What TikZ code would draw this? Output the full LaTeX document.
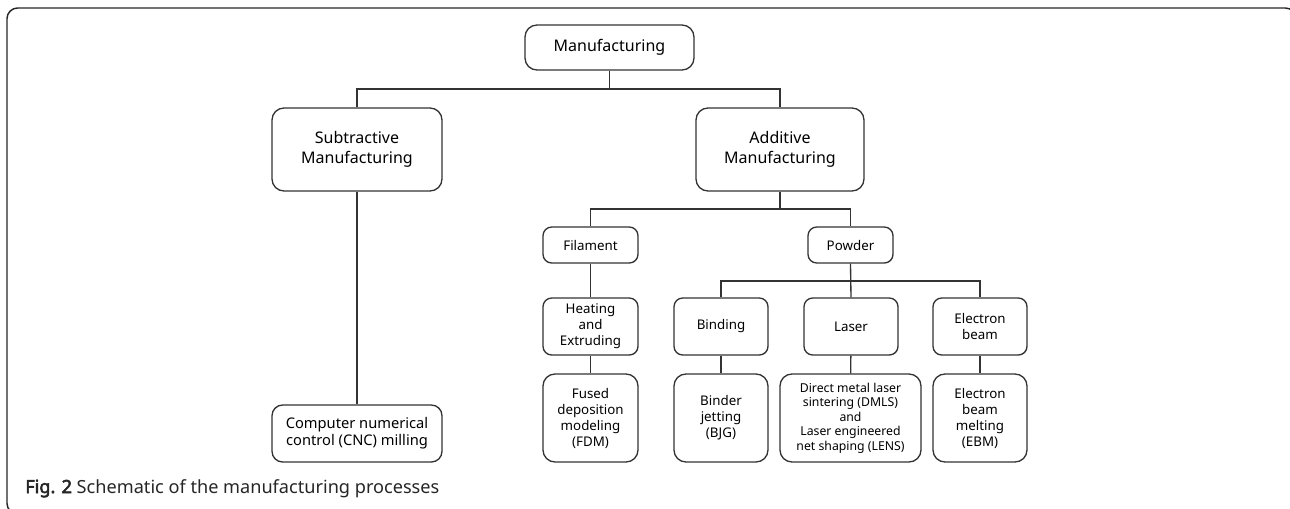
\documentclass[tikz,border=0pt]{standalone}
\usepackage{fontspec}
\setmainfont{Noto Sans}
\newfontfamily\figbold{Noto Sans}[FakeBold=3]
\begin{document}
\begin{tikzpicture}[x=0.75pt,y=-0.75pt,
  line/.style={draw=black!80,line width=1pt},
  bigbox/.style={line, rounded corners=9pt, align=center, inner sep=0pt, font=\fontsize{12}{15.5}\selectfont},
  midbox/.style={line, rounded corners=6.5pt, align=center, inner sep=0pt, font=\fontsize{10}{12}\selectfont},
  cncbox/.style={line, rounded corners=8pt, align=center, inner sep=0pt, font=\fontsize{11}{13}\selectfont},
  smallbox/.style={line, rounded corners=9pt, align=center, inner sep=0pt, font=\fontsize{9.2}{10.9}\selectfont},
  conn/.style={line}]
\useasboundingbox (0,0) rectangle (1290,508);
\begin{scope}
\clip (0,0) rectangle (1290,508);
\draw[draw=black!85,line width=1.1pt,rounded corners=8pt] (7,8) rectangle (1296,514);
\end{scope}
% nodes
\node[bigbox, minimum width=169*0.75pt, minimum height=45*0.75pt] (man) at (609.5,47.5) {Manufacturing};
\node[bigbox, minimum width=170*0.75pt, minimum height=83*0.75pt] (sub) at (357,149.5) {Subtractive\\Manufacturing};
\node[bigbox, minimum width=168*0.75pt, minimum height=83*0.75pt] (add) at (780,149.5) {Additive\\Manufacturing};
\node[midbox, minimum width=95*0.75pt, minimum height=36*0.75pt] (fil) at (590.5,245) {Filament};
\node[midbox, minimum width=85*0.75pt, minimum height=36*0.75pt] (pow) at (850.5,245) {Powder};
\node[midbox, minimum width=95*0.75pt, minimum height=57*0.75pt] (heat) at (590.5,326.5) {Heating\\and\\Extruding};
\node[midbox, minimum width=94*0.75pt, minimum height=57*0.75pt] (bind) at (721,326.5) {Binding};
\node[midbox, minimum width=94*0.75pt, minimum height=57*0.75pt] (laser) at (851,326.5) {Laser};
\node[midbox, minimum width=94*0.75pt, minimum height=57*0.75pt] (eb) at (980,326.5) {Electron\\beam};
\node[midbox, rounded corners=9pt, minimum width=95*0.75pt, minimum height=88*0.75pt] (fdm) at (590.5,418) {Fused\\deposition\\modeling\\(FDM)};
\node[midbox, rounded corners=9pt, minimum width=94*0.75pt, minimum height=88*0.75pt] (bjg) at (721,418) {Binder\\jetting\\(BJG)};
\node[smallbox, minimum width=141*0.75pt, minimum height=88*0.75pt] (dmls) at (850.5,418) {Direct metal laser\\sintering (DMLS)\\and\\Laser engineered\\net shaping (LENS)};
\node[midbox, rounded corners=9pt, minimum width=94*0.75pt, minimum height=88*0.75pt] (ebm) at (980,418) {Electron\\beam\\melting\\(EBM)};
\node[cncbox, minimum width=170*0.75pt, minimum height=57*0.75pt] (cnc) at (357,433.5) {Computer numerical\\control (CNC) milling};
% junctions
\coordinate (j1) at (609.5,89);
\coordinate (j2) at (780,209);
\coordinate (j3) at (851,281);
% connectors
\draw[conn] (man.south) -- (j1);
\draw[conn] (sub.north) |- (j1) -| (add.north);
\draw[conn] (add.south) -- (j2);
\draw[conn] (fil.north) |- (j2) -| (pow.north);
\draw[conn] (pow.south) -- (laser.north);
\draw[conn] (bind.north) |- (j3) -| (eb.north);
\draw[conn] (fil) -- (heat);
\draw[conn] (heat) -- (fdm);
\draw[conn] (bind) -- (bjg);
\draw[conn] (laser) -- (dmls);
\draw[conn] (eb) -- (ebm);
\draw[conn] (sub) -- (cnc);
% caption
\node[anchor=base west, inner sep=0pt, text=black!85, font=\fontsize{13.6}{16}\selectfont] (cap) at (25,493) {{\figbold Fig. 2} Schematic of the manufacturing processes};
\end{tikzpicture}
\end{document}
